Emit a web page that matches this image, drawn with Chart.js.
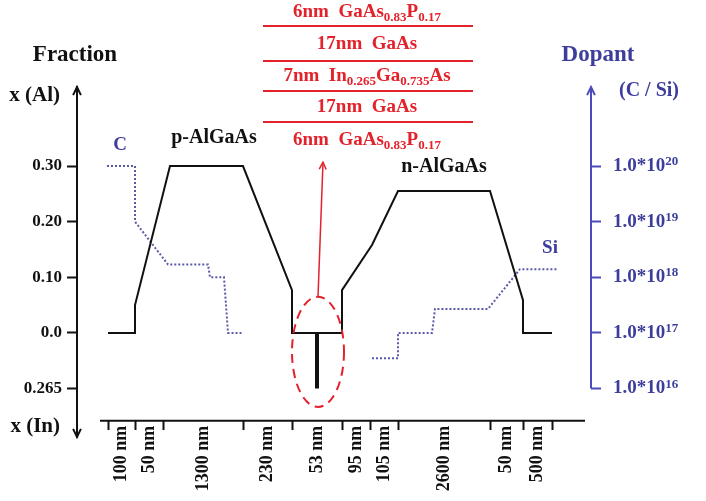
<!DOCTYPE html>
<html>
<head>
<meta charset="utf-8">
<script src="https://cdn.jsdelivr.net/npm/chart.js@4.4.1/dist/chart.umd.min.js"></script>
<style>
  html, body { margin: 0; padding: 0; background: #fff; }
  #wrap { width: 706px; height: 501px; }
</style>
</head>
<body>
<div id="wrap"><canvas id="grafica" width="706" height="501"></canvas></div>
<script>
// layer boundaries along the growth direction (schematic position)
const limites = [108, 135, 163, 243, 292, 342, 370, 398, 490, 523, 552];
const espesores = ["100 nm", "50 nm", "1300 nm", "230 nm", "53 nm", "95 nm", "105 nm", "2600 nm", "50 nm", "500 nm"];

// Al fraction profile
const alX = [108, 135, 135, 170, 243, 292, 292, 342, 342, 372, 398, 490, 523, 523, 552];
const alY = [0, 0, 0.05, 0.30, 0.30, 0.077, 0, 0, 0.077, 0.158, 0.255, 0.255, 0.059, 0, 0];

// InGaAs well, x(In)=0.265 is drawn one step below 0
const pozoX = [317, 317];
const pozoY = [0, -0.1];

// C doping (p side)
const cX = [107, 135, 135, 168, 208, 210, 224, 228, 242];
const cY = [1e20, 1e20, 1e19, 1.7e18, 1.7e18, 1e18, 1e18, 1e17, 1e17];

// Si doping (n side)
const siX = [372, 398, 398, 432, 435, 488, 520, 557];
const siY = [3.5e16, 3.5e16, 1e17, 1e17, 2.7e17, 2.7e17, 1.4e18, 1.4e18];

const fraccionTicks = [-0.1, 0, 0.1, 0.2, 0.3];
const fraccionEtiquetas = ["0.265", "0.0", "0.10", "0.20", "0.30"];
const dopanteTicks = [1e16, 1e17, 1e18, 1e19, 1e20];
const dopanteExp = ["16", "17", "18", "19", "20"];

// quantum well stack, top to bottom
const pila = [
    [["6nm  GaAs"], ["0.83", 1], ["P"], ["0.17", 1]],
    [["17nm  GaAs"]],
    [["7nm  In"], ["0.265", 1], ["Ga"], ["0.735", 1], ["As"]],
    [["17nm  GaAs"]],
    [["6nm  GaAs"], ["0.83", 1], ["P"], ["0.17", 1]]
];

const yMin = -0.187, yMax = 0.442;
const serif = '"Liberation Serif", "Times New Roman", serif';
const negro = "#111";
const azul = "#3d3d9c";
const rojo = "#e3222b";

function puntos(xs, ys) {
    return xs.map((x, i) => ({ x: x, y: ys[i] }));
}

// tick list for the bottom axis: boundaries and the middle of every layer
const xTicks = [];
limites.forEach((b, i) => {
    xTicks.push(b);
    if (i < limites.length - 1) xTicks.push((b + limites[i + 1]) / 2);
});

function texto(ctx, s, x, y, size, color, align) {
    ctx.font = "bold " + size + "px " + serif;
    ctx.fillStyle = color;
    ctx.textAlign = align || "center";
    ctx.textBaseline = "middle";
    ctx.fillText(s, x, y);
}

// text with subscripts / superscripts
function textoMixto(ctx, partes, x, y, size, color, align, desplaza) {
    const chico = Math.round(size * 0.66);
    let ancho = 0;
    partes.forEach(p => {
        ctx.font = "bold " + (p[1] ? chico : size) + "px " + serif;
        ancho += ctx.measureText(p[0]).width;
    });
    let cx = align === "left" ? x : x - ancho / 2;
    ctx.fillStyle = color;
    ctx.textAlign = "left";
    ctx.textBaseline = "middle";
    partes.forEach(p => {
        ctx.font = "bold " + (p[1] ? chico : size) + "px " + serif;
        ctx.fillText(p[0], cx, p[1] ? y + desplaza * size : y);
        cx += ctx.measureText(p[0]).width;
    });
}

function flecha(ctx, x, y, dx, dy, color, largo, ancho) {
    const ang = Math.atan2(dy, dx);
    ctx.strokeStyle = color;
    ctx.lineWidth = ancho;
    ctx.beginPath();
    ctx.moveTo(x - largo * Math.cos(ang - 0.45), y - largo * Math.sin(ang - 0.45));
    ctx.lineTo(x, y);
    ctx.lineTo(x - largo * Math.cos(ang + 0.45), y - largo * Math.sin(ang + 0.45));
    ctx.stroke();
}

const decorado = {
    id: "decorado",
    afterDraw(chart) {
        const ctx = chart.ctx;
        const a = chart.chartArea;
        const sx = chart.scales.x, sy = chart.scales.y, sd = chart.scales.y2;
        ctx.save();

        // axis arrows
        flecha(ctx, a.left, a.top, 0, -1, negro, 9, 2);
        flecha(ctx, a.left, a.bottom, 0, 1, negro, 9, 2);
        ctx.strokeStyle = "#4b4bbb";
        ctx.lineWidth = 2;
        ctx.beginPath();
        ctx.moveTo(a.right, a.top);
        ctx.lineTo(a.right, sd.getPixelForValue(1e16));
        ctx.stroke();
        flecha(ctx, a.right, a.top, 0, -1, "#4b4bbb", 9, 2);

        // bottom axis line
        const yEje = sy.getPixelForValue(-0.158);
        ctx.strokeStyle = negro;
        ctx.lineWidth = 2;
        ctx.beginPath();
        ctx.moveTo(sx.getPixelForValue(100), yEje);
        ctx.lineTo(sx.getPixelForValue(585), yEje);
        ctx.stroke();

        // dopant tick labels
        dopanteTicks.forEach((v, i) => {
            textoMixto(ctx, [["1.0*10"], [dopanteExp[i], 1]], a.right + 22, sd.getPixelForValue(v), 19, azul, "left", -0.22);
        });

        // titles
        texto(ctx, "Fraction", 75, 55, 23, negro);
        texto(ctx, "x (Al)", 60, 96, 21, negro, "right");
        texto(ctx, "x (In)", 60, 427, 21, negro, "right");
        texto(ctx, "Dopant", 598, 55, 23, azul);
        texto(ctx, "(C / Si)", 649, 91, 20, azul);

        // region labels
        texto(ctx, "p-AlGaAs", sx.getPixelForValue(214), sy.getPixelForValue(0.35), 20, negro);
        texto(ctx, "n-AlGaAs", sx.getPixelForValue(444), sy.getPixelForValue(0.298), 20, negro);
        texto(ctx, "C", sx.getPixelForValue(120), sy.getPixelForValue(0.337), 19, azul);
        texto(ctx, "Si", sx.getPixelForValue(550), sy.getPixelForValue(0.153), 19, azul);

        // dashed ellipse round the well
        const cx = sx.getPixelForValue(318);
        const cy = sy.getPixelForValue(-0.034);
        const rx = sx.getPixelForValue(344) - cx;
        const ry = cy - sy.getPixelForValue(0.065);
        ctx.strokeStyle = rojo;
        ctx.lineWidth = 2;
        ctx.setLineDash([9, 6]);
        ctx.beginPath();
        ctx.ellipse(cx, cy, rx, ry, 0, 0, Math.PI * 2);
        ctx.stroke();
        ctx.setLineDash([]);

        // arrow to the layer stack
        const tx = sx.getPixelForValue(323), ty = sy.getPixelForValue(0.307);
        ctx.lineWidth = 1.5;
        ctx.beginPath();
        ctx.moveTo(cx, cy - ry);
        ctx.lineTo(tx, ty);
        ctx.stroke();
        flecha(ctx, tx, ty, tx - cx, ty - (cy - ry), rojo, 8, 1.5);

        // layer stack
        const lineas = [26, 61, 91, 122];
        ctx.strokeStyle = rojo;
        ctx.lineWidth = 2;
        lineas.forEach(l => {
            ctx.beginPath();
            ctx.moveTo(263, l);
            ctx.lineTo(473, l);
            ctx.stroke();
        });
        const filas = [12, 44, 76, 107, 140];
        pila.forEach((p, i) => textoMixto(ctx, p, 367, filas[i], 19, rojo, "center", 0.28));

        ctx.restore();
    }
};

const fuenteEje = { family: serif, size: 17, weight: "bold" };

new Chart(document.getElementById("grafica"), {
    type: "line",
    data: {
        datasets: [
            { data: puntos(alX, alY), yAxisID: "y", borderColor: negro, borderWidth: 2 },
            { data: puntos(pozoX, pozoY), yAxisID: "y", borderColor: negro, borderWidth: 4 },
            { data: puntos(cX, cY), yAxisID: "y2", borderColor: "#5a5aaa", borderWidth: 2, borderDash: [2, 2] },
            { data: puntos(siX, siY), yAxisID: "y2", borderColor: "#5a5aaa", borderWidth: 2, borderDash: [2, 2] }
        ]
    },
    options: {
        responsive: false,
        animation: false,
        devicePixelRatio: 1,
        layout: { padding: { top: 87, bottom: 64, left: 0, right: 0 } },
        elements: { point: { radius: 0 }, line: { tension: 0 } },
        plugins: { legend: { display: false }, tooltip: { enabled: false } },
        scales: {
            x: {
                type: "linear",
                min: 77,
                max: 591,
                position: { y: -0.158 },
                border: { display: false },
                afterBuildTicks: s => { s.ticks = xTicks.map(v => ({ value: v })); },
                grid: {
                    drawOnChartArea: false,
                    tickLength: 9,
                    tickWidth: 2,
                    tickColor: c => (c.index % 2 === 0 ? negro : "rgba(0,0,0,0)")
                },
                ticks: {
                    autoSkip: false,
                    minRotation: 90,
                    maxRotation: 90,
                    padding: -4,
                    color: negro,
                    font: { family: serif, size: 18, weight: "bold" },
                    callback: (v, i) => (i % 2 === 1 ? espesores[(i - 1) / 2] : "")
                }
            },
            y: {
                type: "linear",
                position: "left",
                min: yMin,
                max: yMax,
                afterBuildTicks: s => { s.ticks = fraccionTicks.map(v => ({ value: v })); },
                afterFit: s => { s.width = 77; },
                border: { color: negro, width: 2 },
                grid: { drawOnChartArea: false, tickLength: 10, tickWidth: 2, tickColor: negro },
                ticks: {
                    padding: 5,
                    color: negro,
                    font: fuenteEje,
                    callback: (v, i) => fraccionEtiquetas[i]
                }
            },
            y2: {
                type: "logarithmic",
                position: "right",
                min: Math.pow(10, 17 + yMin * 10),
                max: Math.pow(10, 17 + yMax * 10),
                afterBuildTicks: s => { s.ticks = dopanteTicks.map(v => ({ value: v })); },
                afterFit: s => { s.width = 115; },
                border: { display: false },
                grid: { drawOnChartArea: false, tickLength: 10, tickWidth: 2, tickColor: "#4b4bbb" },
                ticks: { display: false }
            }
        }
    },
    plugins: [decorado]
});
</script>
</body>
</html>
